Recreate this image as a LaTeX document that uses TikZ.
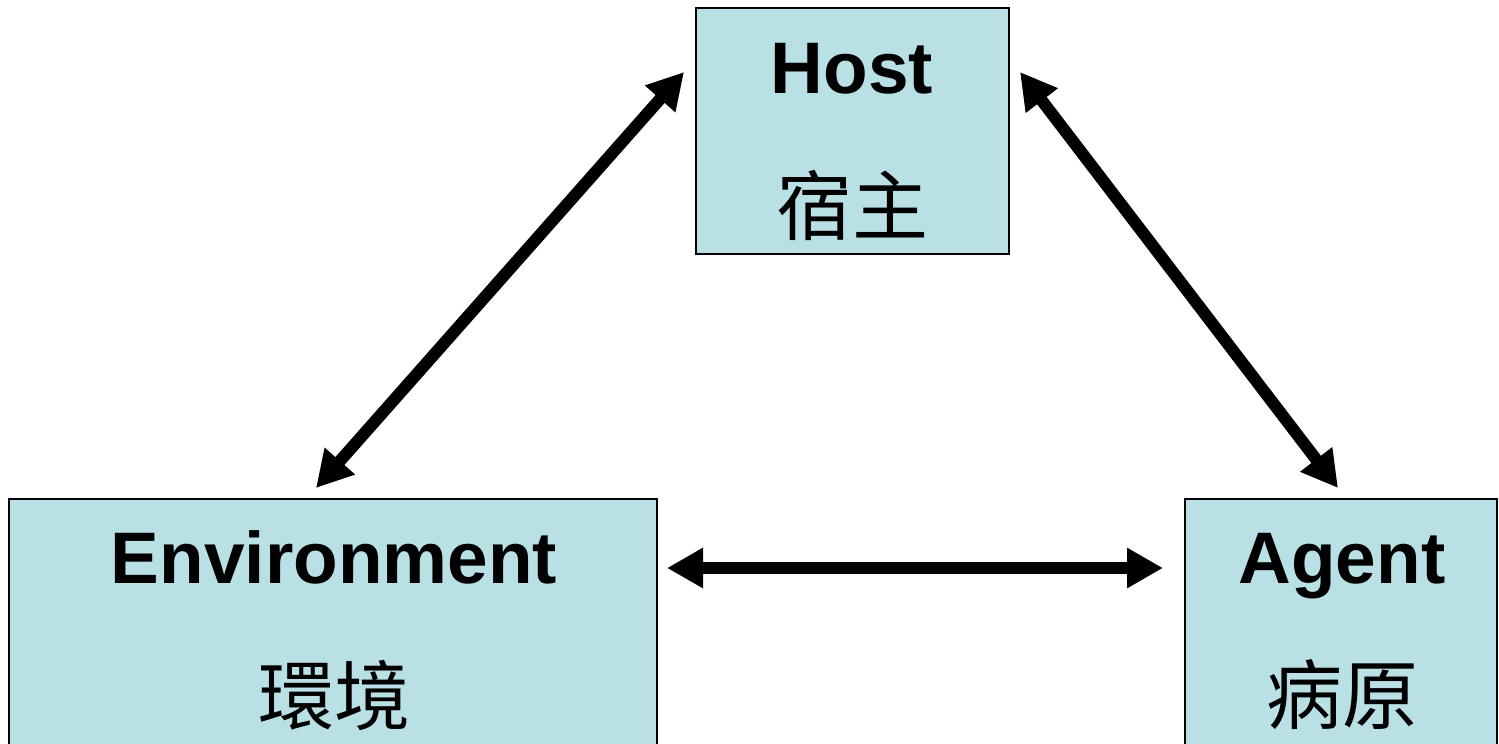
\documentclass[tikz,border=0pt]{standalone}
\usepackage{fontspec}
\setmainfont{Liberation Sans}
\newfontfamily\cjk{Noto Sans CJK TC}
\usetikzlibrary{arrows.meta,calc}
\definecolor{boxfill}{RGB}{185,224,228}
\tikzset{
  box/.style={draw=black, line width=1.3pt, fill=boxfill, rectangle, anchor=north west, inner sep=0pt, outer sep=0pt},
  entxt/.style={font=\bfseries\fontsize{73}{80}\selectfont, inner sep=0pt, anchor=base},
  zhtxt/.style={font=\cjk\fontsize{76}{84}\selectfont, inner sep=0pt, anchor=center},
  link/.style={line width=12pt, {Triangle[length=36pt,width=38pt]}-{Triangle[length=36pt,width=38pt]}}
}
\begin{document}
\begin{tikzpicture}[x=1pt,y=-1pt]
\useasboundingbox (0,0) rectangle (1499,744);
\clip (0,0) rectangle (1499,744);
\node[box, minimum width=313pt, minimum height=246pt] (host) at (696,8) {};
\node[box, minimum width=648pt, minimum height=270pt] (env) at (9,499) {};
\node[box, minimum width=312pt, minimum height=270pt] (agent) at (1185,499) {};
\node[entxt] (hostE) at (852,93) {Host};
\node[zhtxt] (hostZ) at (852,205) {宿主};
\node[entxt] (envE) at (334,583) {Environment};
\node[zhtxt] (envZ) at (334,695) {環境};
\node[entxt] (agentE) at (1342,583) {Agent};
\node[zhtxt] (agentZ) at (1342,695) {病原};
\draw[link] ($(env.north west)+(307,-11)$) -- ($(host.north west)+(-12,64)$);
\draw[link] ($(host.north east)+(11,64)$) -- ($(agent.north west)+(153,-11)$);
\draw[link] ($(env.north east)+(10,69)$) -- ($(agent.north west)+(-22,69)$);
\end{tikzpicture}
\end{document}
